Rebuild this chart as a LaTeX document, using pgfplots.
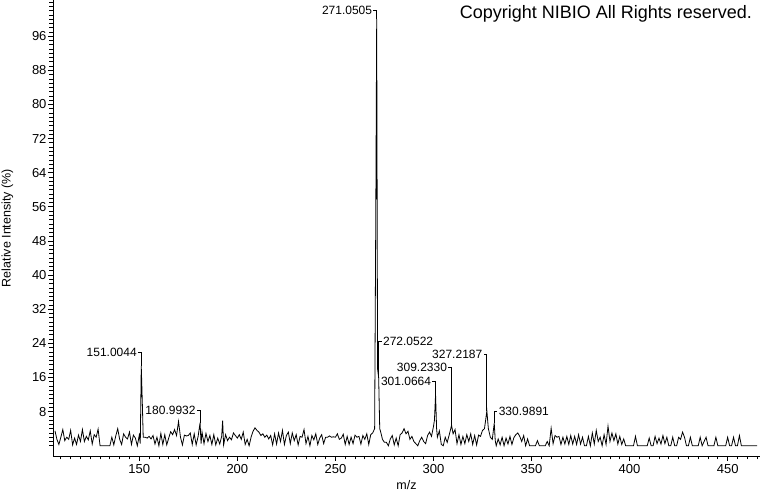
\documentclass[border=0pt]{standalone}
\usepackage{fontspec}
\setmainfont{Liberation Sans}
\usepackage{pgfplots}
\pgfplotsset{compat=1.18}

\begin{document}
\begin{tikzpicture}
\useasboundingbox (0,0) rectangle (760pt,492pt);
\begin{axis}[
  at={(53pt,36pt)}, anchor=south west,
  scale only axis, width=707pt, height=456pt,
  xmin=106, xmax=466.5, ymin=-2.4, ymax=104.5,
  axis lines=left, axis line style={-, line width=0.8pt},
  tick align=outside,
  xtick={150,200,...,450},
  minor xtick={110,115,...,465},
  ytick={8,16,...,96},
  minor ytick={0,1,...,104},
  major tick length=5pt, minor tick length=3.5pt,
  tick style={black, line width=0.8pt},
  /pgf/number format/assume math mode=true,
  tick label style={font=\fontsize{13}{13}\selectfont},
  yticklabel style={xshift=2pt},
  xlabel={m/z}, ylabel={Relative Intensity (\%)},
  label style={font=\fontsize{12.5}{12.5}\selectfont},
  ylabel style={yshift=12pt},
  clip=false,
]
\addplot[black, line width=0.8pt] coordinates {
(107,3.5)(108,1.5)(109,0.3)(110,2.0)(111,3.8)(112,1.2)(113,2.0)(114,1.5)(115,3.6)(116,0.2)
(117,1.8)(118,0.3)(119,2.5)(120,1.0)(121,3.8)(122,1.0)(123,2.2)(124,1.4)(125,3.5)(126,0.4)
(127,2.6)(128,2.0)(129,3.9)(130,0)(131,0)(132,0)(133,0)(134,0)(135,0)(136,2.0)
(137,0.2)(138,2.3)(139,4.0)(140,1.5)(141,0.3)(142,2.8)(143,2.0)(144,1.6)(145,3.2)(146,0.3)
(147,2.5)(148,1.8)(149,0)(150,2.5)(150.5,0.5)(151.0044,18.7)(151.5,10.8)(152,2.0)(153,2.0)(154,1.8)
(155,2.2)(156,1.6)(157,2.4)(158,0.4)(159,2.0)(160,0)(161,2.9)(162,0.3)(163,2.6)(164,0.2)
(165,1.8)(166,3.3)(167,2.6)(168,3.8)(169,2.4)(170,5.7)(171,2.0)(172,0.2)(173,2.5)(174,2.3)
(175,2.4)(176,3.0)(177,0.3)(178,2.8)(179,0.2)(180,2.2)(180.9932,5.4)(181.5,0.5)(182,3.2)(183,0.5)
(184,2.9)(185,1.0)(186,2.4)(187,0.3)(188,2.6)(189,0.2)(190,1.8)(191,0.4)(192,2.2)(192.5,5.9)
(193,0.2)(194,2.6)(195,1.2)(196,2.0)(197,1.4)(198,3.0)(199,2.4)(200,1.8)(201,2.6)(202,1.5)
(203,3.2)(204,0.3)(205,1.5)(206,0)(207,2.0)(208,3.4)(209,4.2)(210,3.6)(211,3.2)(212,2.4)
(213,2.8)(214,2.0)(215,2.5)(216,1.6)(217,2.4)(218,0.2)(219,2.8)(220,0.4)(221,3.0)(222,1.0)
(223,3.6)(224,0.3)(225,2.4)(226,3.2)(227,0.5)(228,3.0)(229,1.2)(230,2.6)(231,0.2)(232,2.2)
(233,2.0)(234,3.8)(235,0.5)(236,2.2)(237,0)(238,2.4)(239,1.4)(240,2.8)(241,0.3)(242,1.8)
(243,2.6)(244,0.5)(245,2.0)(246,2.0)(247,2.3)(248,2.0)(249,2.1)(250,2.0)(251,2.8)(252,1.5)
(253,1.8)(254,2.7)(255,0.3)(256,2.2)(257,0.3)(258,2.0)(259,0.5)(260,2.5)(261,2.0)(262,2.2)
(263,0.4)(264,2.4)(265,1.5)(266,2.8)(267,0.3)(268,2.6)(269,3.0)(270,4.0)(270.55,51)(271.0505,100)
(271.5,18)(272.0522,16)(272.6,4)(273,3.4)(274,1.5)(275,0.8)(276,0.8)(277,0)(278,1.6)(279,2.4)
(280,0.2)(281,1.8)(282,0)(283,2.6)(284,3.0)(285,4.0)(286,2.8)(287,3.4)(288,1.5)(289,2.2)
(290,1.0)(291,0.5)(292,0)(293,1.2)(294,2.0)(295,1.0)(296,0.5)(297,2.4)(298,3.2)(299,2.2)
(300,4.5)(300.5,6)(301.0664,12)(301.6,4)(302,2.0)(303,3.5)(304,0.3)(305,0)(306,2.0)(307,0.8)
(308,2.5)(309.233,4.8)(310,2.8)(311,3.8)(312,0.5)(313,2.6)(314,0.3)(315,2.2)(316,0.5)(317,2.6)
(318,1.0)(319,2.8)(320,0.3)(321,2.4)(322,0.2)(323,2.5)(324,2.2)(325,3.6)(326,4.0)(326.6,6)
(327.2187,8.2)(327.8,5)(328,4.0)(329,2.0)(330,1.5)(330.9891,5.3)(331.5,1.2)(332,0)(333,1.6)(334,0.2)
(335,2.0)(336,0)(337,1.8)(338,0.4)(339,2.2)(340,0.3)(341,1.9)(342,2.6)(343,3.0)(344,2.2)
(345,1.0)(346,2.4)(347,0)(348,1.6)(349,0)(350,0)(351,0)(352,0)(353,1.2)(354,0)
(355,0)(356,0)(357,0)(358,1.0)(359,0)(360,4.1)(361,0.5)(362,2.4)(363,2.0)(364,2.2)
(365,0.3)(366,2.0)(367,0.4)(368,2.2)(369,0.3)(370,2.4)(371,0.4)(372,2.2)(373,0.3)(374,2.6)
(375,0.4)(376,2.0)(377,0)(378,0)(379,2.2)(380,0)(381,3.0)(382,0.4)(383,3.6)(384,1.0)
(385,2.0)(386,0)(387,2.6)(388,0.3)(389,4.6)(390,1.0)(391,3.0)(392,1.2)(393,2.8)(394,0.4)
(395,2.2)(396,0.3)(397,1.6)(398,0)(399,0)(400,0)(401,0)(402,0)(403,2.2)(404,0)
(405,0)(406,0)(407,0)(408,0)(409,0)(410,1.8)(411,0)(412,0)(413,2.2)(414,0.5)
(415,1.8)(416,0.4)(417,2.4)(418,0.5)(419,2.0)(420,0)(421,0)(422,2.0)(423,0)(424,0)
(425,2.0)(426,1.5)(427,3.2)(428,2.0)(429,0)(430,0)(431,2.0)(432,0)(433,0)(434,0)
(435,0)(436,2.0)(437,0)(438,1.0)(439,2.0)(440,0)(441,0)(442,0)(443,0)(444,2.0)
(445,0)(446,0)(447,0)(448,0)(449,0)(450,2.0)(451,0)(452,0)(453,2.0)(454,0)
(455,0)(456,2.4)(457,0)(458,0)(459,0)(460,0)(462,0)(465,0)
};
% peak annotations
\begin{scope}[line width=0.8pt, every node/.style={font=\fontsize{12}{12}\selectfont, inner sep=1pt}]
\draw (axis cs:271.0505,100) |- (axis cs:269.4,102.1) node[left]{271.0505};
\draw (axis cs:151.0044,18.7) |- (axis cs:149.4,22.0) node[left]{151.0044};
\draw (axis cs:180.9932,5.4) |- (axis cs:179.4,8.2) node[left]{180.9932};
\draw (axis cs:272.0522,16) |- (axis cs:273.6,24.4) node[right]{272.0522};
\draw (axis cs:301.0664,12) |- (axis cs:299.5,15.0) node[left]{301.0664};
\draw (axis cs:309.233,4.8) |- (axis cs:307.6,18.3) node[left]{309.2330};
\draw (axis cs:327.2187,8.2) |- (axis cs:325.6,21.5) node[left]{327.2187};
\draw (axis cs:330.9891,5.3) |- (axis cs:332.6,8.0) node[right]{330.9891};
\end{scope}
\node[anchor=east, font=\fontsize{18}{18}\selectfont, inner sep=0pt] at (axis description cs:0.989,0.969) {Copyright NIBIO All Rights reserved.};
\end{axis}
\end{tikzpicture}
\end{document}
